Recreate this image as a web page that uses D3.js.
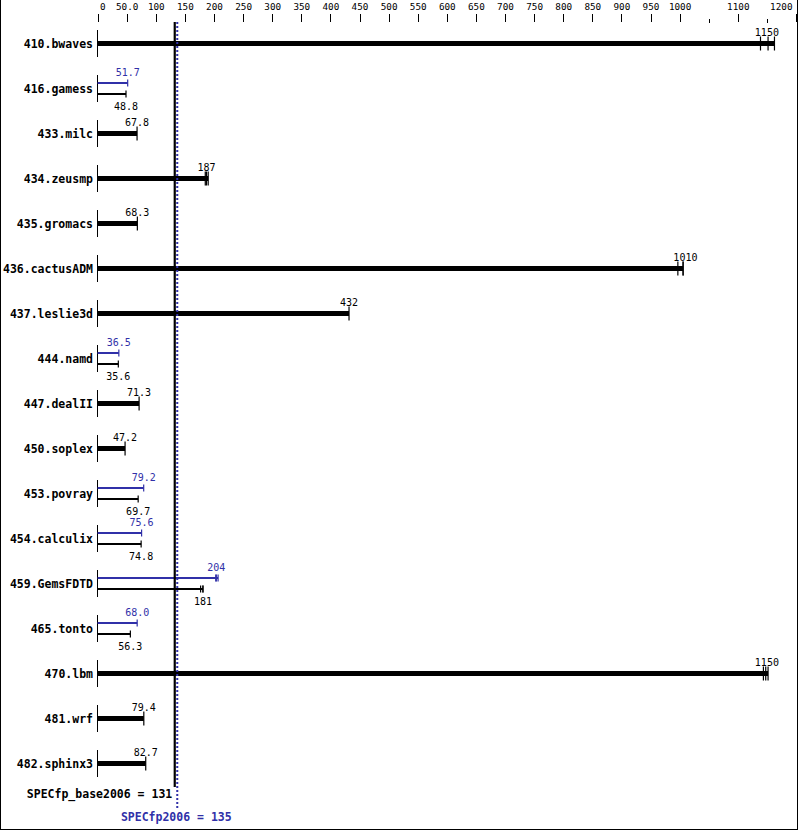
<!DOCTYPE html>
<html>
<head>
<meta charset="utf-8">
<script src="https://cdn.jsdelivr.net/npm/d3@7"></script>
<style>
  html, body { margin: 0; padding: 0; background: #fff; }
  svg { display: block; }
</style>
</head>
<body>
<div id="chart"></div>
<script>
const benchmarks = ["410.bwaves","416.gamess","433.milc","434.zeusmp","435.gromacs","436.cactusADM","437.leslie3d","444.namd","447.dealII","450.soplex","453.povray","454.calculix","459.GemsFDTD","465.tonto","470.lbm","481.wrf","482.sphinx3"];
const baseValues = [1150, 48.8, 67.8, 187, 68.3, 1010, 432, 35.6, 71.3, 47.2, 69.7, 74.8, 181, 56.3, 1150, 79.4, 82.7];
const peakValues = [null, 51.7, null, null, null, null, null, 36.5, null, null, 79.2, 75.6, 204, 68.0, null, null, null];
const baseRuns = [[1139,1152,1163],[48.8],[67.8],[185,187,190],[68.3],[997,1006,1006],[432],[35.6],[71.3],[47.2],[69.7],[74.8],[177,181,181],[56.3],[1144,1148,1152],[79.4],[82.7]];
const peakRuns = [null,[51.7],null,null,null,null,null,[36.5],null,null,[79.2],[75.6],[203,204,207],[68.0],null,null,null];
const tickValues = [0,50,100,150,200,250,300,350,400,450,500,550,600,650,700,750,800,850,900,950,1000,1050,1100,1150,1200];
const tickLabels = ["0","50.0","100","150","200","250","300","350","400","450","500","550","600","650","700","750","800","850","900","950","1000","","1100","","1200"];
const baseScore = 131;
const peakScore = 135;
const baseScoreLabel = "SPECfp_base2006 = 131";
const peakScoreLabel = "SPECfp2006 = 135";

const W = 799, H = 831;
const BLUE = "#3030a8";
const MONO = "'DejaVu Sans Mono', 'Liberation Mono', monospace";

const svg = d3.select("#chart").append("svg").attr("width", W).attr("height", H);

svg.append("rect").attr("x", 0.5).attr("y", -5).attr("width", 797).attr("height", 834.5)
  .attr("fill", "none").attr("stroke", "#000").attr("stroke-width", 1);

const x = d3.scaleLinear().domain([0, 1200]).range([97.6, 796]);
const y = d3.scalePoint().domain(benchmarks).range([43.5, 43.5 + 45 * 16]);

// top axis
const axis = d3.axisTop(x).tickValues(tickValues)
  .tickFormat((d, i) => tickLabels[i]).tickSize(8).tickPadding(4);
const ag = svg.append("g").attr("transform", "translate(0,22)").call(axis);
ag.select(".domain").remove();
ag.selectAll(".tick line").attr("stroke", "#000").attr("shape-rendering", "crispEdges")
  .each(function(d, i) { if (tickLabels[i] === "") d3.select(this).attr("y2", -3).attr("y1", 1); });
ag.selectAll(".tick text").attr("font-family", MONO).attr("font-size", "9.3px").attr("fill", "#000")
  .each(function(d) {
    const t = d3.select(this);
    const w = this.getComputedTextLength();
    const cx = x(d);
    let nx = cx;
    if (cx - w / 2 < 99.5) nx = 99.5 + w / 2;
    if (cx + w / 2 > 792) nx = 792 - w / 2;
    t.attr("x", nx - cx);
  });

const rows = svg.append("g").selectAll("g.row").data(benchmarks).join("g").attr("class", "row");

rows.each(function(name, i) {
  const g = d3.select(this);
  const cy = y(name);
  // benchmark name
  g.append("text").attr("x", 93).attr("y", cy + 4).attr("text-anchor", "end")
    .attr("font-family", MONO).attr("font-weight", "bold").attr("font-size", "11.5px")
    .attr("fill", "#000").text(name);
  // row axis
  g.append("line").attr("x1", x(0)).attr("x2", x(0)).attr("y1", cy - 13.5).attr("y2", cy + 13.5)
    .attr("stroke", "#000").attr("stroke-width", 1).attr("shape-rendering", "crispEdges");

  const fmt = d3.format(".3r");
  if (peakValues[i] === null) {
    const runs = baseRuns[i];
    const end = d3.max(runs);
    g.append("rect").attr("x", x(0)).attr("y", cy - 2.5).attr("width", x(end) - x(0)).attr("height", 5)
      .attr("fill", "#000");
    runs.forEach(r => g.append("line").attr("x1", x(r)).attr("x2", x(r)).attr("y1", cy - 7).attr("y2", cy + 7)
      .attr("stroke", "#000").attr("stroke-width", 1.2));
    g.append("text").attr("x", x(baseValues[i])).attr("y", cy - 8).attr("text-anchor", "middle")
      .attr("font-family", MONO).attr("font-size", "10px").attr("fill", "#000").text(fmt(baseValues[i]));
  } else {
    const specs = [
      { runs: peakRuns[i], val: peakValues[i], yy: cy - 5.5, col: BLUE, ly: cy - 12.5 },
      { runs: baseRuns[i], val: baseValues[i], yy: cy + 5.5, col: "#000", ly: cy + 21 }
    ];
    specs.forEach(s => {
      const end = d3.max(s.runs);
      g.append("rect").attr("x", x(0)).attr("y", s.yy - 1).attr("width", x(end) - x(0)).attr("height", 2)
        .attr("fill", s.col);
      s.runs.forEach(r => g.append("line").attr("x1", x(r)).attr("x2", x(r)).attr("y1", s.yy - 3.5).attr("y2", s.yy + 3.5)
        .attr("stroke", s.col).attr("stroke-width", 1.2));
      g.append("text").attr("x", x(s.val)).attr("y", s.ly).attr("text-anchor", "middle")
        .attr("font-family", MONO).attr("font-size", "10px").attr("fill", s.col).text(fmt(s.val));
    });
  }
});

// mean lines
const bx = x(baseScore) + 0.9, px = x(peakScore) + 1.1;
svg.append("line").attr("x1", bx).attr("x2", bx).attr("y1", 22).attr("y2", 787)
  .attr("stroke", "#000").attr("stroke-width", 2.2);
svg.append("line").attr("x1", px).attr("x2", px).attr("y1", 22).attr("y2", 808)
  .attr("stroke", BLUE).attr("stroke-width", 2).attr("stroke-dasharray", "2,2");

svg.append("text").attr("x", bx - 2.5).attr("y", 798).attr("text-anchor", "end")
  .attr("font-family", MONO).attr("font-weight", "bold").attr("font-size", "11.5px").attr("fill", "#000")
  .text(baseScoreLabel);
svg.append("text").attr("x", px - 1).attr("y", 821).attr("text-anchor", "middle")
  .attr("font-family", MONO).attr("font-weight", "bold").attr("font-size", "11.5px").attr("fill", BLUE)
  .text(peakScoreLabel);
</script>
</body>
</html>
